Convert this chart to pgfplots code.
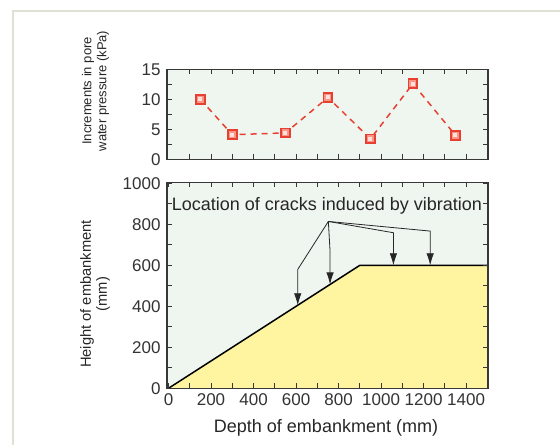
\documentclass[border=0pt]{standalone}
\usepackage{fontspec}
\setmainfont{Liberation Sans}
\usepackage{pgfplots}
\pgfplotsset{compat=1.18}
\usetikzlibrary{arrows.meta}
\definecolor{bgmint}{RGB}{239,246,240}
\definecolor{sand}{RGB}{255,245,160}
\definecolor{ptred}{RGB}{232,64,48}
\definecolor{ptpink}{RGB}{248,150,138}
\definecolor{ptlight}{RGB}{255,225,220}
\definecolor{framegray}{RGB}{224,224,214}
\definecolor{axgray}{RGB}{55,55,55}
\begin{document}
\begin{tikzpicture}[x=1bp,y=1bp]
\path[use as bounding box] (0,0) rectangle (560,-445);
\draw[framegray, line width=1.2bp] (13,-445) -- (13,-11) -- (560,-11);
\pgfplotsset{
 every axis/.append style={
  scale only axis, width=321bp,
  axis background/.style={fill=bgmint},
  axis line style={axgray, line width=1.2bp},
  tick style={axgray, line width=1bp},
  major tick length=5bp, minor tick length=5bp,
  tick align=inside,
  ticklabel style={font=\fontsize{17bp}{20bp}\selectfont, text=black!80},
  yticklabel style={xshift=-3bp},
  /pgf/number format/assume math mode=true,
  /pgf/number format/1000 sep={},
  axis on top,
 }
}
% top panel
\begin{axis}[at={(167bp,-159.3bp)}, anchor=south west, height=90bp,
 xmin=-7, xmax=1503, ymin=0, ymax=15,
 xtick={100,200,...,1400}, xticklabel=\empty,
 ytick={0,5,10,15}, minor ytick={2.5,7.5,12.5}]
\addplot[ptred, line width=1.5bp, dash pattern=on 6bp off 5bp, mark=square*, mark size=4.5bp, mark options={solid, fill=ptred, draw=ptred}]
 coordinates {(150,10.0) (300,4.1) (550,4.4) (750,10.3) (950,3.4) (1150,12.6) (1350,4.0)};
\addplot[ptpink, only marks, mark=square*, mark size=3bp, mark options={solid, fill=ptpink, draw=ptpink, line width=0pt}]
 coordinates {(150,10.0) (300,4.1) (550,4.4) (750,10.3) (950,3.4) (1150,12.6) (1350,4.0)};
\addplot[ptlight, only marks, mark=square*, mark size=1.5bp, mark options={solid, fill=ptlight, draw=ptlight, line width=0pt}]
 coordinates {(150,10.0) (300,4.1) (550,4.4) (750,10.3) (950,3.4) (1150,12.6) (1350,4.0)};
\end{axis}
% bottom panel
\begin{axis}[at={(167bp,-388.3bp)}, anchor=south west, height=206bp,
 xmin=-7, xmax=1503, ymin=0, ymax=1005,
 xtick={0,200,...,1400}, minor xtick={100,300,...,1300},
 ytick={0,200,...,1000}, minor ytick={100,300,...,900},
 xticklabel style={yshift=-2bp}]
\addplot[fill=sand, draw=none] coordinates {(0,0) (900,600) (1600,600) (1600,0) (0,0)};
\addplot[black, line width=1.5bp] coordinates {(0,0) (900,600) (1600,600)};
\addplot[black!85, line width=0.8bp, -{Latex[length=12bp,width=7.5bp]}] coordinates {(752,814) (608,580) (608,405)};
\addplot[black!85, line width=0.8bp, -{Latex[length=12bp,width=7.5bp]}] coordinates {(752,814) (760,669) (760,507)};
\addplot[black!85, line width=0.8bp, -{Latex[length=12bp,width=7.5bp]}] coordinates {(752,814) (1058,759) (1058,600)};
\addplot[black!85, line width=0.8bp, -{Latex[length=12bp,width=7.5bp]}] coordinates {(752,814) (1231,767) (1231,600)};
\node[font=\fontsize{18bp}{21bp}\selectfont, text=black!85] at (axis cs:745,888) {Location of cracks induced by vibration};
\end{axis}
\node[font=\fontsize{18bp}{21bp}\selectfont, text=black!85] at (326,-428) {Depth of embankment (mm)};
\node[rotate=90, align=center, font=\fontsize{14.7bp}{16bp}\selectfont, text=black!85] at (95,-294) {Height of embankment\\(mm)};
\node[rotate=90, align=center, font=\fontsize{13bp}{15bp}\selectfont, text=black!85] at (95.5,-91) {Increments in pore\\water pressure (kPa)};
\end{tikzpicture}
\end{document}
